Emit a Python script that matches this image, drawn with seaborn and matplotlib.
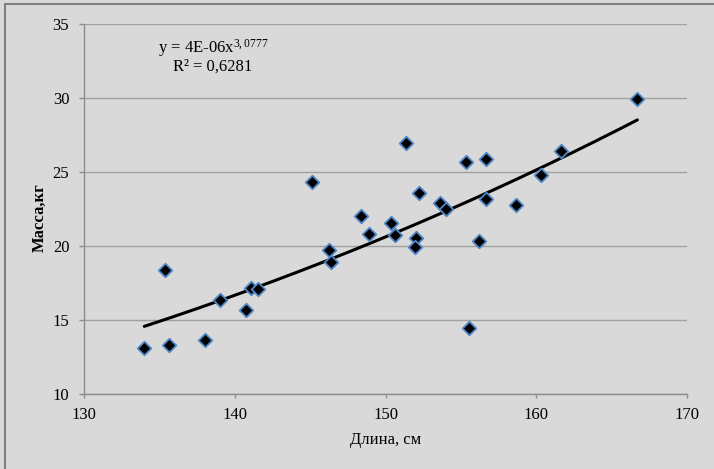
import numpy as np
import pandas as pd
import matplotlib
matplotlib.use("Agg")
import matplotlib.pyplot as plt
from matplotlib.lines import Line2D
import seaborn as sns

# ---- data ----
length_cm = [134.0, 135.35, 135.64, 138.03, 139.0, 140.73, 141.06, 141.57, 145.15, 146.26,
             146.39, 148.38, 148.91, 150.37, 150.64, 151.34, 152.05, 151.96, 152.23, 153.6,
             154.02, 155.33, 155.55, 156.17, 156.66, 156.66, 158.63, 160.3, 161.63, 166.71]
mass_kg = [13.13, 18.38, 13.31, 13.65, 16.35, 15.68, 17.18, 17.07, 24.32, 19.73,
           18.92, 22.05, 20.83, 21.53, 20.74, 26.96, 20.56, 19.93, 23.58, 22.88,
           22.48, 25.66, 14.44, 20.36, 25.9, 23.19, 22.75, 24.8, 26.44, 29.93]
x_ticks = [130, 140, 150, 160, 170]
y_ticks = [10, 15, 20, 25, 30, 35]
eq_text = r"y = 4E-06x$^{3,0777}$"
r2_text = "R² = 0,6281"
x_label = "Длина, см"
y_label = "Масса,кг"

df = pd.DataFrame({"x": length_cm, "y": mass_kg})

# power trendline fitted in log space (as Excel does)
b, ln_a = np.polyfit(np.log(df["x"]), np.log(df["y"]), 1)
xs = np.linspace(df["x"].min(), df["x"].max(), 200)
trend = pd.DataFrame({"x": xs, "y": np.exp(ln_a) * xs ** b})

sns.set_theme(style="white")
plt.rcParams["font.family"] = ["Liberation Serif", "DejaVu Serif"]
plt.rcParams["mathtext.fontset"] = "custom"
plt.rcParams["mathtext.rm"] = "Liberation Serif"
plt.rcParams["mathtext.it"] = "Liberation Serif"

bg = "#d9d9d9"
fig = plt.figure(figsize=(7.14, 4.69), dpi=100, facecolor=bg)
ax = fig.add_axes([84 / 714, 1 - 394 / 469, (687 - 84) / 714, (394 - 24) / 469])
ax.set_facecolor(bg)

sns.lineplot(data=trend, x="x", y="y", ax=ax, color="black", linewidth=2.2, zorder=3)
sns.scatterplot(data=df, x="x", y="y", ax=ax, marker="D", s=48, color="black",
                edgecolor="#4f86c6", linewidth=1.3, zorder=4)

ax.set_xlim(130, 170)
ax.set_ylim(10, 35)
ax.set_xticks(x_ticks)
ax.set_yticks(y_ticks)
ax.yaxis.grid(True, color="#a0a0a0", linewidth=1.0)
ax.xaxis.grid(False)
ax.set_axisbelow(True)
for s in ["top", "right"]:
    ax.spines[s].set_visible(False)
for s in ["left", "bottom"]:
    ax.spines[s].set_color("#8c8c8c")
    ax.spines[s].set_linewidth(1.0)

ax.tick_params(axis="y", direction="out", length=3.6, width=1, color="#8c8c8c",
               pad=7, labelsize=12, labelcolor="black", left=True)
ax.tick_params(axis="x", direction="out", length=2.9, width=1, color="#8c8c8c",
               pad=6.3, labelsize=12, labelcolor="black", bottom=True)

ax.set_xlabel(x_label, fontsize=12, color="black")
ax.set_ylabel(y_label, fontsize=12, fontweight="bold", color="black")
ax.xaxis.set_label_coords(0.501, -0.104)
ax.yaxis.set_label_coords(-0.060, 0.477)

ax.text(0.214, 0.935, eq_text, transform=ax.transAxes, ha="center", va="center",
        fontsize=12, color="black")
ax.text(0.214, 0.884, r2_text, transform=ax.transAxes, ha="center", va="center",
        fontsize=12, color="black")

# chart frame: only left and top edges are inside the image
fig.lines.append(Line2D([5 / 714, 5 / 714], [0, 1 - 4 / 469], transform=fig.transFigure,
                        color="#808080", linewidth=1.5))
fig.lines.append(Line2D([5 / 714, 1], [1 - 4 / 469, 1 - 4 / 469], transform=fig.transFigure,
                        color="#808080", linewidth=1.5))

fig.savefig("out.png", dpi=100, facecolor=bg)
